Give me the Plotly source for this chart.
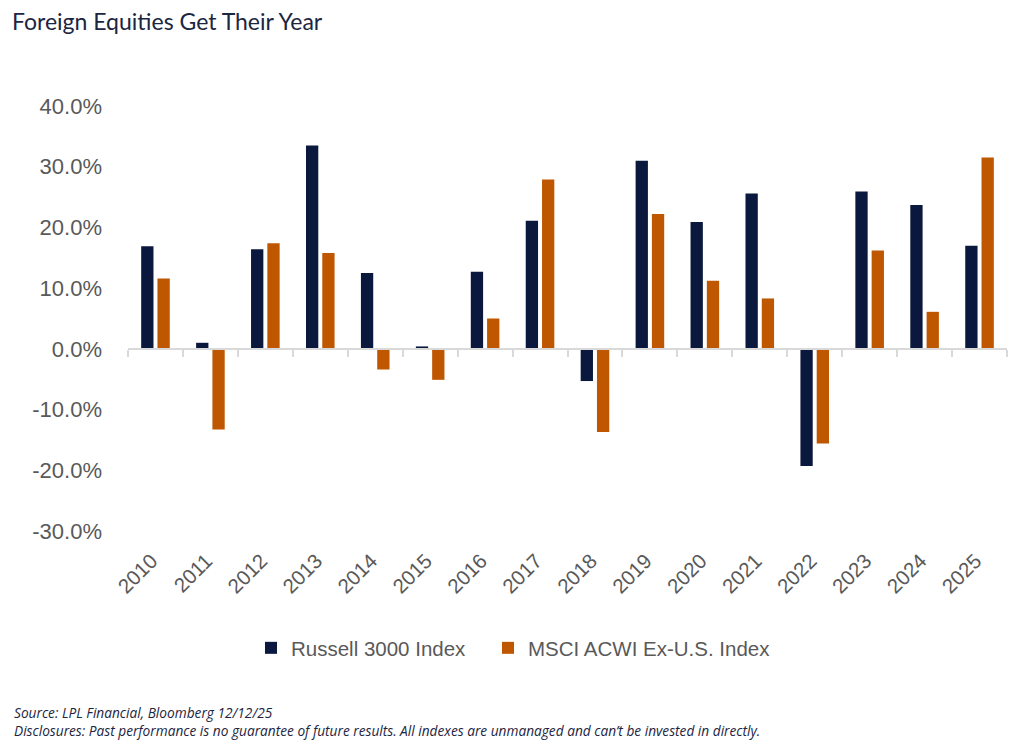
import plotly.graph_objects as go

years = [str(y) for y in range(2010, 2026)]
russell = [16.9, 1.0, 16.4, 33.5, 12.5, 0.4, 12.7, 21.1, -5.3, 31.0, 20.9, 25.6, -19.3, 25.9, 23.7, 17.0]
msci = [11.6, -13.3, 17.4, 15.8, -3.4, -5.1, 5.0, 27.9, -13.7, 22.2, 11.2, 8.3, -15.6, 16.2, 6.1, 31.5]
y_ticks = [-30, -20, -10, 0, 10, 20, 30, 40]
y_ticktext = [f"{v:.1f}%" for v in y_ticks]

NAVY = "#0a183d"
ORANGE = "#bf5700"
GRAY = "#595959"
SANS = "Liberation Sans, Arial, sans-serif"

# the page body has an 8px margin, so the figure is laid out 8px up/left
W, H = 1008, 734
L, T, R, B = 120, 98, 9, 211
PW, PH = W - L - R, H - T - B

fig = go.Figure()
fig.add_trace(go.Bar(x=years, y=russell, name="Russell 3000 Index", legend="legend",
                     marker=dict(color=NAVY, line=dict(width=0))))
fig.add_trace(go.Bar(x=years, y=msci, name="MSCI ACWI Ex-U.S. Index", legend="legend2",
                     marker=dict(color=ORANGE, line=dict(width=0))))
# invisible helper trace for the zero-line category axis
fig.add_trace(go.Bar(x=years, y=[None] * len(years), xaxis="x2", showlegend=False,
                     hoverinfo="skip"))

legend_common = dict(orientation="h", xref="container", xanchor="left",
                     y=1 - 640 / H, yref="container", yanchor="middle",
                     font=dict(family=SANS, size=20.5, color=GRAY), itemwidth=30)

fig.update_layout(
    width=W, height=H,
    paper_bgcolor="white", plot_bgcolor="white",
    margin=dict(l=L, r=R, t=T, b=B),
    barmode="group", bargap=0.407, bargroupgap=0.245,
    title=dict(text="Foreign Equities Get Their Year", x=4 / W, xref="container",
               xanchor="left", y=1 - 6 / H, yref="container", yanchor="top",
               font=dict(family="Lato, sans-serif", size=23, color="#1c2541")),
    xaxis=dict(type="category", categoryorder="array", categoryarray=years,
               showline=False, showgrid=False, zeroline=False, ticks="",
               tickangle=-45, tickfont=dict(family=SANS, size=20.5, color=GRAY),
               ticklabelstandoff=13, ticklabelshift=-4),
    xaxis2=dict(type="category", categoryorder="array", categoryarray=years,
                overlaying="x", matches="x", anchor="free", position=30 / 70,
                side="bottom", showline=True, linecolor="#d9d9d9", linewidth=1.5,
                ticks="outside", tickson="boundaries", ticklen=7, tickwidth=1.5,
                tickcolor="#d9d9d9", showticklabels=False, showgrid=False),
    yaxis=dict(range=[-30, 40], tickvals=y_ticks, ticktext=y_ticktext,
               showgrid=False, zeroline=False, showline=False, ticks="",
               tickfont=dict(family=SANS, size=22, color=GRAY),
               ticklabelstandoff=25),
    legend=dict(x=243 / W, **legend_common),
    legend2=dict(x=480 / W, **legend_common),
    showlegend=True,
)

footer_font = dict(family="Open Sans, sans-serif", size=13.7, color="#1c2541")
fig.add_annotation(text="<i>Source: LPL Financial, Bloomberg 12/12/25</i><br>"
                        "<i>Disclosures: Past performance is no guarantee of future results. "
                        "All indexes are unmanaged and can\u2019t be invested in directly.</i>",
                   xref="paper", yref="paper", x=(4 - L) / PW, y=(PH + T - 734) / PH,
                   xanchor="left", yanchor="bottom", align="left", showarrow=False,
                   font=footer_font)

fig.write_html("out.html")
